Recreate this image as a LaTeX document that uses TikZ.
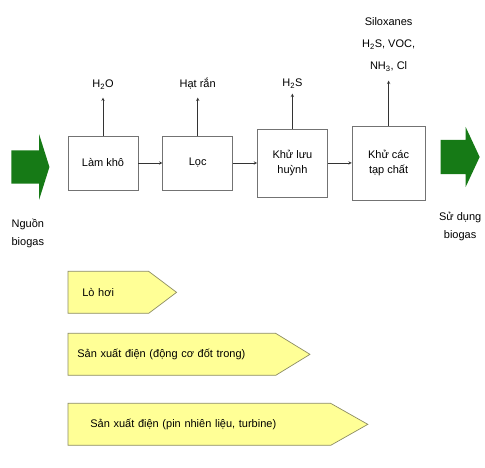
\documentclass[tikz,border=0pt]{standalone}
\usepackage{fontspec}
\setmainfont{Liberation Sans}
\usepackage{tikz}
\usetikzlibrary{shapes.arrows, arrows, positioning, calc}

\definecolor{gasgreen}{RGB}{22,122,22}
\definecolor{useyellow}{RGB}{255,255,150}
\definecolor{useedge}{RGB}{140,140,100}

\begin{document}
\begin{tikzpicture}[
    x=1pt, y=1pt,
    node distance=24pt,
    stage/.style={rectangle, draw=black!55, fill=white, line width=0.7pt, minimum width=70pt, minimum height=54pt, align=center, font=\fontsize{11}{15}\selectfont},
    waste/.style={align=center, inner sep=2pt, font=\fontsize{11}{22}\selectfont},
    gas/.style={single arrow, fill=gasgreen, draw=none, inner xsep=0pt},
    caption/.style={align=center, inner sep=0pt, font=\fontsize{11}{18}\selectfont},
    usage/.style={single arrow, single arrow head extend=0pt, draw=useedge, fill=useyellow, line width=0.7pt, minimum width=42pt, inner ysep=0pt, align=left, font=\fontsize{11}{13}\selectfont},
    flow/.style={->, >=stealth, black!80, line width=0.5pt}
]
    \useasboundingbox (0,0) rectangle (485,468);

    \node (dry) [stage] at (103,305) {Làm khô};
    \node (filter) [stage, right=of dry] {Lọc};
    \node (desulf) [stage, right=of filter, minimum height=68pt] {Khử lưu\\huỳnh};
    \node (purify) [stage, right=of desulf, minimum width=73pt, minimum height=74pt] {Khử các\\tạp chất};

    \node (water) [waste, above=44pt of dry] {H\textsubscript{2}O};
    \node (solid) [waste, above=44pt of filter] {Hạt rắn};
    \node (sulfide) [waste, above=38pt of desulf] {H\textsubscript{2}S};
    \node (trace) [waste, above=52pt of purify] {Siloxanes\\H\textsubscript{2}S, VOC,\\NH\textsubscript{3}, Cl};

    \node (source) [gas, inner ysep=16.5pt, minimum height=38pt, minimum width=65pt, single arrow head extend=16pt, single arrow tip angle=145, left=18pt of dry, yshift=-4pt] {};
    \node (use) [gas, inner ysep=17pt, minimum height=39pt, minimum width=60pt, single arrow head extend=13pt, single arrow tip angle=130, right=15pt of purify, yshift=6pt] {};
    \node (srclabel) [caption, below=35pt of source] {Nguồn\\biogas};
    \node (uselabel) [caption, below=38pt of use, xshift=4pt] {Sử dụng\\biogas};

    \node (boiler) [usage, text width=52pt, inner xsep=14pt, single arrow tip angle=74] at ($(dry.south west)+(0,-102pt)$) [anchor=west] {Lò hơi};
    \node (engine) [usage, text width=189pt, inner xsep=9pt, single arrow tip angle=63, below=62pt of boiler.west, anchor=west] {Sản xuất điện (động cơ đốt trong)};
    \node (fuelcell) [usage, text width=218pt, inner xsep=22pt, single arrow tip angle=59, below=70pt of engine.west, anchor=west] {Sản xuất điện (pin nhiên liệu, turbine)};

    \draw[flow] (dry) -- (filter);
    \draw[flow] (filter) -- (desulf);
    \draw[flow] (desulf) -- (purify);

    \draw[flow, shorten >=6pt] (dry) -- (water);
    \draw[flow, shorten >=6pt] (filter) -- (solid);
    \draw[flow, shorten >=3pt] (desulf) -- (sulfide);
    \draw[flow, shorten >=7pt] (purify) -- (trace);
\end{tikzpicture}
\end{document}
